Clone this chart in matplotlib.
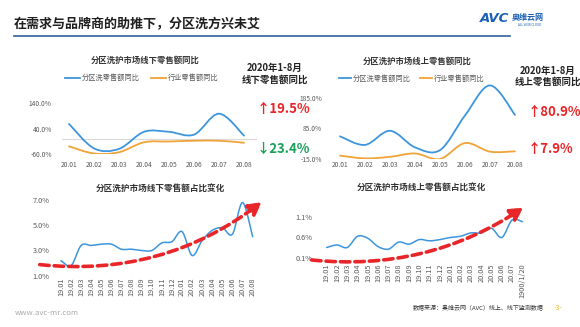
import numpy as np
import matplotlib
matplotlib.use("Agg")
import matplotlib.pyplot as plt
from matplotlib.path import Path
from matplotlib.patches import PathPatch, FancyArrowPatch
from matplotlib.lines import Line2D

plt.rcParams['font.family'] = ['Noto Sans CJK SC', 'DejaVu Sans']

# ---- data ----
months_2020 = ['20.01', '20.02', '20.03', '20.04', '20.05', '20.06', '20.07', '20.08']
offline_zone_yoy = [58, -38, -40, 27, 27, 16, 98, 12]
offline_industry_yoy = [-30, -58, -53, -14, -11, -8, -8, -16]
online_zone_yoy = [59, 31, 77, 23, 14, 127, 225, 129]
online_industry_yoy = [-4, -13, -8, 3, -15, 37, 9, 10]

offline_share_months = ['19.01', '19.02', '19.03', '19.04', '19.05', '19.06', '19.07',
                        '19.08', '19.09', '19.10', '19.11', '19.12', '20.01', '20.02',
                        '20.03', '20.04', '20.05', '20.06', '20.07', '20.08']
offline_share = [2.2, 1.8, 3.4, 3.4, 3.5, 3.5, 3.1, 3.1, 3.0, 3.0,
                 3.6, 3.7, 4.5, 2.6, 3.8, 4.6, 4.8, 4.3, 6.8, 4.1]
online_share_months = offline_share_months[:-1] + ['1900/1/20']
online_share = [0.36, 0.42, 0.36, 0.63, 0.58, 0.38, 0.32, 0.49, 0.44, 0.55,
                0.52, 0.55, 0.60, 0.63, 0.71, 0.71, 0.82, 0.60, 1.02, 0.98]

BLUE = '#3d95dd'
ORANGE = '#f0a336'
RED = '#e8262a'
GREEN = '#1aa05a'
GRAY = '#595959'

W, H = 580, 327


def fx(px):
    return px / W


def fy(py):
    return 1 - py / H


def smooth_path(y):
    # Excel-like smoothed line: cubic bezier through each point
    pts = np.column_stack([np.arange(len(y)), np.asarray(y, float)])
    ext = np.vstack([pts[0], pts, pts[-1]])
    verts, codes = [pts[0]], [Path.MOVETO]
    for i in range(len(pts) - 1):
        p0, p1, p2, p3 = ext[i], ext[i + 1], ext[i + 2], ext[i + 3]
        verts += [p1 + (p2 - p0) / 6, p2 - (p3 - p1) / 6, p2]
        codes += [Path.CURVE4] * 3
    return Path(verts, codes)


def draw_line(ax, y, color, lw):
    ax.add_patch(PathPatch(smooth_path(y), fill=False, ec=color, lw=lw,
                           capstyle='round', joinstyle='round'))


def setup(ax, labels, yticks, ylabels, xlim, ylim, fs, xpad, ypad, rot=0):
    ax.set_xlim(*xlim)
    ax.set_ylim(*ylim)
    ax.set_xticks(range(len(labels)))
    ax.set_xticklabels(labels, rotation=rot, fontsize=fs, color=GRAY)
    ax.set_yticks(yticks)
    ax.set_yticklabels(ylabels, fontsize=fs, color=GRAY)
    ax.tick_params(axis='x', length=0, pad=xpad)
    ax.tick_params(axis='y', length=0, pad=ypad)
    for s in ax.spines.values():
        s.set_visible(False)
    ax.patch.set_alpha(0)


def trend_arrow(ax, start, end, rad):
    arr = FancyArrowPatch(start, end, connectionstyle='arc3,rad=%s' % rad,
                          arrowstyle='-|>,head_length=7.5,head_width=4',
                          mutation_scale=1, lw=2.6, ls=(0, (2.6, 1.4)),
                          color=RED, shrinkA=0, shrinkB=0, clip_on=False, zorder=5)
    ax.add_patch(arr)


fig = plt.figure(figsize=(5.8, 3.27), dpi=100)
fig.patch.set_facecolor('white')

# header
fig.text(fx(14), fy(24), '在需求与品牌商的助推下，分区洗方兴未艾', fontsize=9.4,
         fontweight='bold', color='#1f1f1f', va='center', ha='left')
fig.add_artist(Line2D([fx(14), fx(510)], [fy(35.5), fy(35.5)], color='#2f5f98', lw=1.2))
fig.text(fx(509), fy(19), 'AVC', fontsize=9.5, fontweight='bold', fontstyle='italic',
         color='#1a5fb4', va='center', ha='right', family='DejaVu Sans')
fig.text(fx(512), fy(17.5), '奥维云网', fontsize=5.8, fontweight='bold',
         color='#1a5fb4', va='center', ha='left')
fig.text(fx(518), fy(24.5), 'ALL VIEW CLOUD', fontsize=2.2, color='#1a5fb4',
         va='center', ha='left')

# ---- top left: offline YoY ----
ax1 = fig.add_axes([fx(61.5), fy(154), (256.5 - 61.5) / W, 51 / H])
setup(ax1, months_2020, [-60, 40, 140], ['-60.0%', '40.0%', '140.0%'],
      (-0.3, 7.5), (-60, 140), 4.8, 5, 7)
ax1.axhline(0, color='#d9d9d9', lw=0.8, zorder=0)
draw_line(ax1, offline_zone_yoy, BLUE, 1.3)
draw_line(ax1, offline_industry_yoy, ORANGE, 1.3)
fig.text(fx(145.5), fy(60.7), '分区洗护市场线下零售额同比', fontsize=6, fontweight='bold',
         color='#333333', ha='center', va='center')
h1 = [Line2D([], [], color=BLUE, lw=1.3), Line2D([], [], color=ORANGE, lw=1.3)]
fig.legend(h1, ['分区洗零售额同比', '行业零售额同比'], loc='center',
           bbox_to_anchor=(fx(142), fy(78.3)), ncol=2, frameon=False, fontsize=5.2,
           handlelength=2.0, columnspacing=1.6, handletextpad=0.3, labelcolor=GRAY)

fig.text(fx(275), fy(67.5), '2020年1-8月', fontsize=6.8, fontweight='bold',
         color='#222222', ha='center', va='center')
fig.text(fx(275), fy(80), '线下零售额同比', fontsize=6.8, fontweight='bold',
         color='#222222', ha='center', va='center')
fig.text(fx(257), fy(109.3), '↑19.5%', fontsize=9.5, fontweight='bold', color=RED,
         ha='left', va='center')
fig.text(fx(257), fy(149), '↓23.4%', fontsize=9.5, fontweight='bold', color=GREEN,
         ha='left', va='center')

# ---- top right: online YoY ----
ax2 = fig.add_axes([fx(328), fy(159), 199.5 / W, (159 - 83.9) / H])
setup(ax2, months_2020, [-15, 85, 185], ['-15.0%', '85.0%', '185.0%'],
      (-0.48, 7.5), (-15, 230), 4.8, 1.5, 4.5)
draw_line(ax2, online_zone_yoy, BLUE, 1.3)
draw_line(ax2, online_industry_yoy, ORANGE, 1.3)
fig.text(fx(416.7), fy(61), '分区洗护市场线上零售额同比', fontsize=6, fontweight='bold',
         color='#333333', ha='center', va='center')
h2 = [Line2D([], [], color=BLUE, lw=1.3), Line2D([], [], color=ORANGE, lw=1.3)]
fig.legend(h2, ['分区洗零售额同比', '行业零售额同比'], loc='center',
           bbox_to_anchor=(fx(412), fy(79)), ncol=2, frameon=False, fontsize=5.2,
           handlelength=1.6, columnspacing=1.3, handletextpad=0.3, labelcolor=GRAY)

fig.text(fx(548), fy(70.7), '2020年1-8月', fontsize=6.8, fontweight='bold',
         color='#222222', ha='center', va='center')
fig.text(fx(547.5), fy(81.7), '线上零售额同比', fontsize=6.8, fontweight='bold',
         color='#222222', ha='center', va='center')
fig.text(fx(528), fy(111.7), '↑80.9%', fontsize=9.5, fontweight='bold', color=RED,
         ha='left', va='center')
fig.text(fx(528), fy(149.3), '↑7.9%', fontsize=9.5, fontweight='bold', color=RED,
         ha='left', va='center')

# ---- bottom left: offline share ----
ax3 = fig.add_axes([fx(53.9), fy(275.7), 204.8 / W, (275.7 - 196.3) / H])
setup(ax3, offline_share_months, [1, 3, 5, 7], ['1.0%', '3.0%', '5.0%', '7.0%'],
      (-0.7, 19.6), (1.0, 7.3), 5.3, 1.5, 3, rot=90)
draw_line(ax3, offline_share, BLUE, 1.1)
trend_arrow(ax3, (-2.1, 1.88), (19.9, 6.85), 0.2)
fig.text(fx(160.5), fy(189), '分区洗护市场线下零售额占比变化', fontsize=6.2, fontweight='bold',
         color='#333333', ha='center', va='center')

# ---- bottom right: online share ----
ax4 = fig.add_axes([fx(317.4), fy(258.3), 211.2 / W, 54.1 / H])
setup(ax4, online_share_months, [0.1, 0.6, 1.1], ['0.1%', '0.6%', '1.1%'],
      (-0.9, 19.6), (0.1, 1.4), 5.3, 3.5, 3.3, rot=90)
draw_line(ax4, online_share, BLUE, 1.1)
trend_arrow(ax4, (-1.46, 0.06), (19.1, 1.32), 0.18)
fig.text(fx(421.7), fy(188.3), '分区洗护市场线上零售额占比变化', fontsize=6.2, fontweight='bold',
         color='#333333', ha='center', va='center')

# footer
fig.text(fx(15), fy(312.7), 'www.avc-mr.com', fontsize=5.6, color='#aaaaaa',
         ha='left', va='center')
fig.text(fx(413), fy(308.3), '数据来源：奥维云网（AVC）线上、线下监测数据', fontsize=4.3,
         color='#333333', ha='left', va='center')
fig.text(fx(558), fy(308.3), '-3-', fontsize=5.2, color='#e8b820', ha='center', va='center')

fig.savefig('out.png', dpi=100, facecolor='white')
